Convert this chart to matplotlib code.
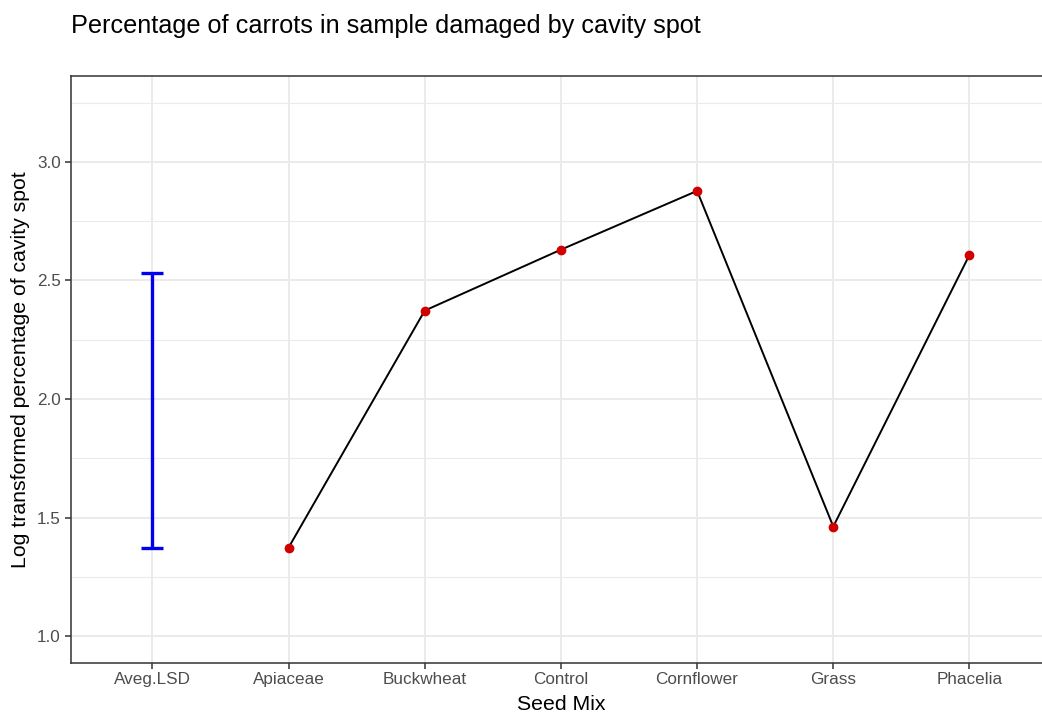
import matplotlib
matplotlib.use("Agg")
import matplotlib.pyplot as plt
from matplotlib.ticker import MultipleLocator

plt.rcParams['font.family'] = ['Liberation Sans', 'DejaVu Sans']

# Seed mix treatments and mean log-transformed cavity spot percentages
categories = ["Aveg.LSD", "Apiaceae", "Buckwheat", "Control", "Cornflower", "Grass", "Phacelia"]
mix_names = ["Apiaceae", "Buckwheat", "Control", "Cornflower", "Grass", "Phacelia"]
mix_values = [1.373, 2.373, 2.630, 2.878, 1.462, 2.608]
# Average least significant difference, drawn up from the lowest mean
lsd_base = 1.373
lsd_value = 1.159

fig = plt.figure(figsize=(10.42, 7.14), dpi=100)
ax = fig.add_axes([0.0678, 0.0718, 0.941, 0.8217])

xpos = {c: i for i, c in enumerate(categories)}
mx = [xpos[c] for c in mix_names]

# gridlines in ggplot theme_bw style
ax.set_axisbelow(True)
ax.yaxis.set_major_locator(MultipleLocator(0.5))
ax.yaxis.set_minor_locator(MultipleLocator(0.25))
ax.grid(which='major', color='#EBEBEB', linewidth=1.4)
ax.grid(which='minor', axis='y', color='#EBEBEB', linewidth=0.8)

ax.plot(mx, mix_values, color='black', linewidth=1.4, zorder=3)
ax.plot(mx, mix_values, 'o', color='#D00000', markersize=6, zorder=4)

ax.errorbar([xpos["Aveg.LSD"]], [lsd_base + lsd_value / 2], yerr=[[lsd_value / 2], [lsd_value / 2]],
            fmt='none', ecolor='#0000F0', elinewidth=2.4, capsize=7.8, capthick=2.4, zorder=3)

ax.set_xlim(-0.6, len(categories) - 1 + 0.6)
ax.set_ylim(0.8875, 3.3625)
ax.set_xticks(range(len(categories)))
ax.set_xticklabels(categories)
ax.set_yticks([1.0, 1.5, 2.0, 2.5, 3.0])
ax.set_yticklabels(["1.0", "1.5", "2.0", "2.5", "3.0"])

ax.tick_params(which='major', length=4, width=1.1, color='#333333', labelcolor='#4D4D4D',
               labelsize=12.3, pad=3)
ax.tick_params(which='minor', length=0)
for s in ax.spines.values():
    s.set_color('#333333')
    s.set_linewidth(1.1)

ax.set_xlabel("Seed Mix", fontsize=15.3, labelpad=5.5)
ax.set_ylabel("Log transformed percentage of cavity spot", fontsize=15.3, labelpad=5)
fig.text(0.0678, 0.963, "Percentage of carrots in sample damaged by cavity spot",
         fontsize=18.2, ha='left', va='center')

fig.savefig("out.png", dpi=100)
